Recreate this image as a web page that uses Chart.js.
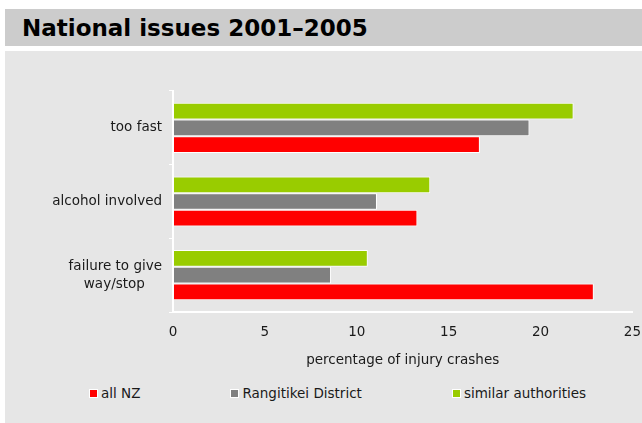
<!DOCTYPE html>
<html lang="en">
<head>
<meta charset="utf-8">
<title>National issues 2001–2005</title>
<script src="https://cdn.jsdelivr.net/npm/chart.js@4.4.1/dist/chart.umd.min.js"></script>
<style>
  body { margin: 0; background: #fff; font-family: "DejaVu Sans", Verdana, sans-serif; overflow: hidden; }
  #title-band { position: absolute; left: 5px; top: 9px; width: 637px; height: 37px; background: #cccccc; }
  #title-band h2 { margin: 0; padding-left: 17px; font-size: 23px; line-height: 38px; font-weight: bold; color: #000; }
  #panel { position: absolute; left: 5px; top: 51px; width: 637px; height: 372px; background: #e6e6e6; overflow: hidden; }
  #chart-box { position: absolute; left: 0; top: 0; width: 648px; height: 331px; }
  #legend { position: absolute; left: 84px; top: 333px; display: flex; gap: 90px;
            font-size: 13.5px; line-height: 18px; color: #1a1a1a; }
  .leg-item { display: flex; align-items: center; }
  .leg-box { width: 7px; height: 7px; border: 1px solid #fff; margin-right: 3px; }
</style>
</head>
<body>

<div id="title-band"><h2>National issues 2001–2005</h2></div>

<div id="panel">
  <div id="chart-box"><canvas id="issues"></canvas></div>
  <div id="legend"></div>
</div>

<script>
// categories (top to bottom)
const issues = ['too fast', 'alcohol involved', ['failure to give', 'way/stop']];

// percentage of injury crashes
const allNZ      = [16.7, 13.3, 22.9];
const rangitikei = [19.4, 11.1, 8.6];
const similar    = [21.8, 14.0, 10.6];

const seriesNames = ['all NZ', 'Rangitikei District', 'similar authorities'];
const seriesColors = ['#ff0000', '#808080', '#99cc00'];

const xTicks = [0, 5, 10, 15, 20, 25];

const txt = '#1a1a1a';
const fnt = { family: '"DejaVu Sans", Verdana, sans-serif', size: 13.5 };

// bars: green on top, red at bottom
const ds = [
  { label: seriesNames[2], data: similar,    backgroundColor: seriesColors[2] },
  { label: seriesNames[1], data: rangitikei, backgroundColor: seriesColors[1] },
  { label: seriesNames[0], data: allNZ,      backgroundColor: seriesColors[0] }
];
ds.forEach(d => {
  d.borderColor = '#ffffff';
  d.borderWidth = 1;
  d.borderSkipped = false;
  d.categoryPercentage = 0.68;
  d.barPercentage = 1.0;
});

new Chart(document.getElementById('issues'), {
  type: 'bar',
  data: { labels: issues, datasets: ds },
  options: {
    indexAxis: 'y',
    responsive: true,
    maintainAspectRatio: false,
    animation: false,
    layout: { padding: { top: 40, left: 0, right: 0, bottom: 0 } },
    plugins: { legend: { display: false }, tooltip: { enabled: false } },
    scales: {
      x: {
        min: 0, max: 25,
        afterBuildTicks: s => { s.ticks = xTicks.map(v => ({ value: v })); },
        afterFit: s => { s.height = 70; },
        grid: { display: false, drawTicks: false },
        border: { display: true, color: '#ffffff', width: 2 },
        ticks: { color: txt, font: fnt, padding: 12, maxRotation: 0 },
        title: { display: true, text: 'percentage of injury crashes', color: txt, font: fnt,
                 padding: { top: 0, bottom: 13 } }
      },
      y: {
        afterFit: s => { s.width = 168; },
        grid: { display: true, drawOnChartArea: false, color: '#ffffff', tickLength: 4, lineWidth: 1 },
        border: { display: true, color: '#ffffff', width: 2 },
        ticks: {
          color: txt, font: Object.assign({ lineHeight: 1.35 }, fnt), padding: 7,
          // centre the two-line label roughly like the original
          callback: function (v) {
            const l = this.getLabelForValue(v);
            return Array.isArray(l) ? [l[0], l[1] + '    '] : l;
          }
        }
      }
    }
  }
});

// legend, in original order
const leg = document.getElementById('legend');
for (let i = 0; i < seriesNames.length; i++) {
  const item = document.createElement('span');
  item.className = 'leg-item';
  item.innerHTML = '<span class="leg-box" style="background:' + seriesColors[i] + '"></span>' + seriesNames[i];
  leg.appendChild(item);
}
</script>
</body>
</html>
